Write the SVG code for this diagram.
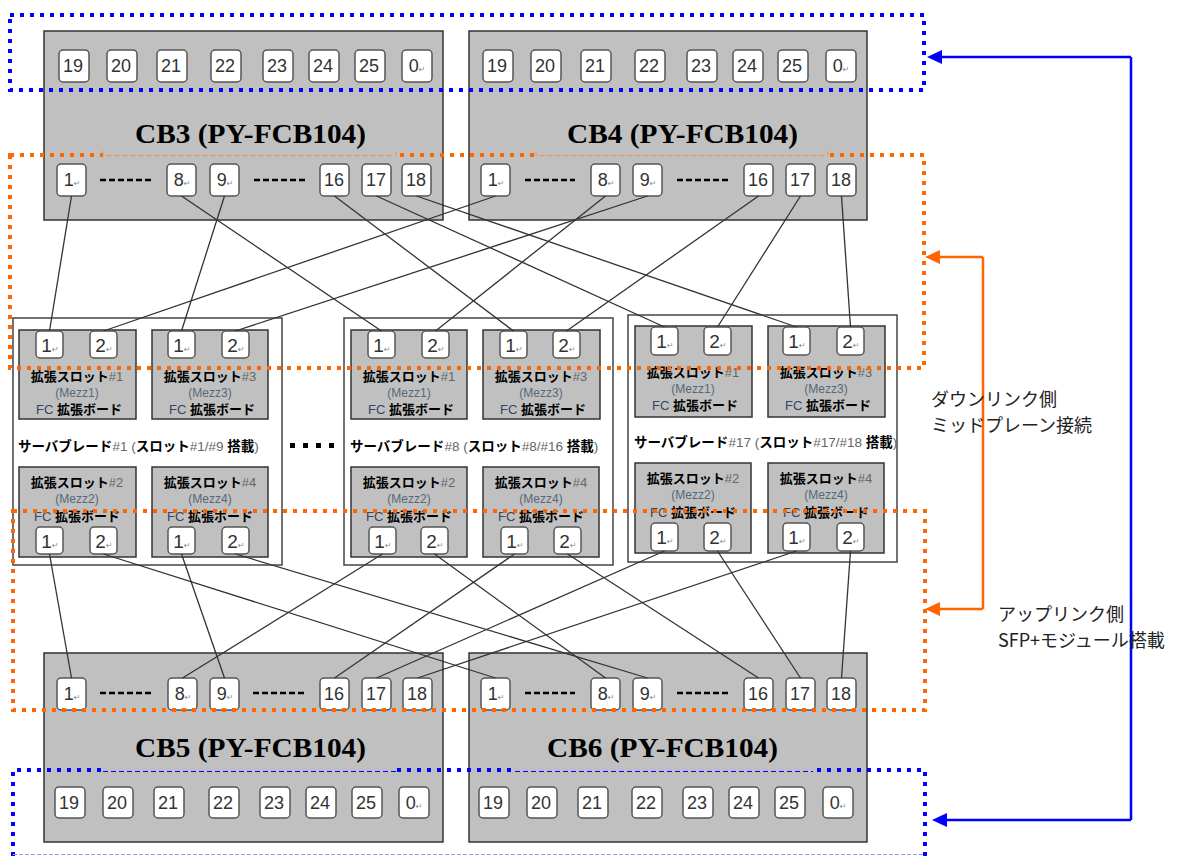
<svg xmlns="http://www.w3.org/2000/svg" width="1187" height="856" viewBox="0 0 1187 856">
<style>
.cb{fill:#c0c0c0;stroke:#333;stroke-width:1.5}
.mz{fill:#c0c0c0;stroke:#333;stroke-width:1.5}
.bl{fill:#fff;stroke:#444;stroke-width:1.5}
.pt{fill:#fff;stroke:#555;stroke-width:1.5}
.pn{font-family:"Liberation Sans",Arial,sans-serif;font-size:18px;fill:#333;text-anchor:middle}
.pb{font-family:"Liberation Sans",Arial,sans-serif;font-size:19px;fill:#333;text-anchor:middle}
.ar{font-family:"DejaVu Sans",sans-serif;font-size:8px;fill:#888}
.cbl{font-family:"Liberation Serif","Times New Roman",serif;font-size:28px;font-weight:bold;fill:#000}
.mt{font-family:"Noto Sans CJK JP",sans-serif;font-size:13px;font-weight:bold;fill:#000;text-anchor:middle}
.g{font-family:"Liberation Sans",Arial,sans-serif;font-weight:normal;fill:#666}
.mm{font-family:"Liberation Sans",Arial,sans-serif;font-size:12px;fill:#55687a;text-anchor:middle}
.fc{font-family:"Liberation Sans",Arial,sans-serif;font-weight:normal;fill:#334466}
.blab{font-family:"Noto Sans CJK JP",sans-serif;font-size:13.5px;font-weight:bold;fill:#000}
.dash{stroke:#000;stroke-width:2.5;stroke-dasharray:6 3}
.conn{stroke:#333;stroke-width:1.3;fill:none}
.bd{fill:none;stroke:#0000ff;stroke-width:4;stroke-dasharray:4 6}
.od{fill:none;stroke:#ff6600;stroke-width:4;stroke-dasharray:4 6}
.side{font-family:"Noto Sans CJK JP","Noto Sans",sans-serif;font-size:18px;fill:#222}
</style>

<g id="cb3">
<rect class="cb" x="44" y="31" width="399" height="189"/>
<rect class="pt" x="59" y="50" width="30" height="32" rx="4"/>
<rect class="pt" x="107" y="50" width="30" height="32" rx="4"/>
<rect class="pt" x="157" y="50" width="30" height="32" rx="4"/>
<rect class="pt" x="211" y="50" width="30" height="32" rx="4"/>
<rect class="pt" x="263" y="50" width="30" height="32" rx="4"/>
<rect class="pt" x="309" y="50" width="30" height="32" rx="4"/>
<rect class="pt" x="355" y="50" width="30" height="32" rx="4"/>
<rect class="pt" x="402" y="50" width="30" height="32" rx="4"/>
<text class="pn" x="73" y="72">19</text>
<text class="pn" x="121" y="72">20</text>
<text class="pn" x="171" y="72">21</text>
<text class="pn" x="225" y="72">22</text>
<text class="pn" x="277" y="72">23</text>
<text class="pn" x="323" y="72">24</text>
<text class="pn" x="369" y="72">25</text>
<text class="pn" x="417" y="72">0<tspan class="ar">↵</tspan></text>
<text class="cbl" x="135" y="143" textLength="231" lengthAdjust="spacingAndGlyphs">CB3 (PY-FCB104)</text>
<rect class="pt" x="57" y="164" width="29" height="32" rx="4"/>
<rect class="pt" x="167" y="164" width="29" height="32" rx="4"/>
<rect class="pt" x="210" y="164" width="29" height="32" rx="4"/>
<rect class="pt" x="320" y="164" width="29" height="32" rx="4"/>
<rect class="pt" x="362" y="164" width="29" height="32" rx="4"/>
<rect class="pt" x="402" y="164" width="29" height="32" rx="4"/>
<text class="pn" x="72" y="186">1<tspan class="ar">↵</tspan></text>
<text class="pn" x="182" y="186">8<tspan class="ar">↵</tspan></text>
<text class="pn" x="225" y="186">9<tspan class="ar">↵</tspan></text>
<text class="pn" x="334" y="186">16</text>
<text class="pn" x="376" y="186">17</text>
<text class="pn" x="416" y="186">18</text>
<line class="dash" x1="100" y1="180" x2="152" y2="180"/>
<line class="dash" x1="254" y1="180" x2="305" y2="180"/>
</g>

<g id="cb4">
<rect class="cb" x="469" y="31" width="398" height="189"/>
<rect class="pt" x="483" y="50" width="30" height="32" rx="4"/>
<rect class="pt" x="531" y="50" width="30" height="32" rx="4"/>
<rect class="pt" x="581" y="50" width="30" height="32" rx="4"/>
<rect class="pt" x="635" y="50" width="30" height="32" rx="4"/>
<rect class="pt" x="687" y="50" width="30" height="32" rx="4"/>
<rect class="pt" x="733" y="50" width="30" height="32" rx="4"/>
<rect class="pt" x="778" y="50" width="30" height="32" rx="4"/>
<rect class="pt" x="826" y="50" width="30" height="32" rx="4"/>
<text class="pn" x="497" y="72">19</text>
<text class="pn" x="545" y="72">20</text>
<text class="pn" x="595" y="72">21</text>
<text class="pn" x="649" y="72">22</text>
<text class="pn" x="701" y="72">23</text>
<text class="pn" x="747" y="72">24</text>
<text class="pn" x="792" y="72">25</text>
<text class="pn" x="841" y="72">0<tspan class="ar">↵</tspan></text>
<text class="cbl" x="567" y="143" textLength="231" lengthAdjust="spacingAndGlyphs">CB4 (PY-FCB104)</text>
<rect class="pt" x="481" y="164" width="29" height="32" rx="4"/>
<rect class="pt" x="591" y="164" width="29" height="32" rx="4"/>
<rect class="pt" x="633" y="164" width="29" height="32" rx="4"/>
<rect class="pt" x="744" y="164" width="29" height="32" rx="4"/>
<rect class="pt" x="786" y="164" width="29" height="32" rx="4"/>
<rect class="pt" x="827" y="164" width="29" height="32" rx="4"/>
<text class="pn" x="496" y="186">1<tspan class="ar">↵</tspan></text>
<text class="pn" x="606" y="186">8<tspan class="ar">↵</tspan></text>
<text class="pn" x="648" y="186">9<tspan class="ar">↵</tspan></text>
<text class="pn" x="758" y="186">16</text>
<text class="pn" x="800" y="186">17</text>
<text class="pn" x="841" y="186">18</text>
<line class="dash" x1="525" y1="180" x2="575" y2="180"/>
<line class="dash" x1="677" y1="180" x2="728" y2="180"/>
</g>

<g id="cb5">
<rect class="cb" x="44" y="653" width="399" height="189"/>
<rect class="pt" x="57" y="678" width="29" height="32" rx="4"/>
<rect class="pt" x="168" y="678" width="29" height="32" rx="4"/>
<rect class="pt" x="210" y="678" width="29" height="32" rx="4"/>
<rect class="pt" x="320" y="678" width="29" height="32" rx="4"/>
<rect class="pt" x="362" y="678" width="29" height="32" rx="4"/>
<rect class="pt" x="403" y="678" width="29" height="32" rx="4"/>
<text class="pn" x="72" y="700">1<tspan class="ar">↵</tspan></text>
<text class="pn" x="183" y="700">8<tspan class="ar">↵</tspan></text>
<text class="pn" x="225" y="700">9<tspan class="ar">↵</tspan></text>
<text class="pn" x="334" y="700">16</text>
<text class="pn" x="376" y="700">17</text>
<text class="pn" x="417" y="700">18</text>
<line class="dash" x1="100" y1="693" x2="152" y2="693"/>
<line class="dash" x1="253" y1="693" x2="304" y2="693"/>
<text class="cbl" x="135" y="757" textLength="231" lengthAdjust="spacingAndGlyphs">CB5 (PY-FCB104)</text>
<rect class="pt" x="55" y="787" width="30" height="31" rx="4"/>
<rect class="pt" x="103" y="787" width="30" height="31" rx="4"/>
<rect class="pt" x="154" y="787" width="30" height="31" rx="4"/>
<rect class="pt" x="209" y="787" width="30" height="31" rx="4"/>
<rect class="pt" x="260" y="787" width="30" height="31" rx="4"/>
<rect class="pt" x="306" y="787" width="30" height="31" rx="4"/>
<rect class="pt" x="352" y="787" width="30" height="31" rx="4"/>
<rect class="pt" x="399" y="787" width="30" height="31" rx="4"/>
<text class="pn" x="69" y="809">19</text>
<text class="pn" x="117" y="809">20</text>
<text class="pn" x="168" y="809">21</text>
<text class="pn" x="223" y="809">22</text>
<text class="pn" x="274" y="809">23</text>
<text class="pn" x="320" y="809">24</text>
<text class="pn" x="366" y="809">25</text>
<text class="pn" x="414" y="809">0<tspan class="ar">↵</tspan></text>
</g>

<g id="cb6">
<rect class="cb" x="469" y="653" width="398" height="189"/>
<rect class="pt" x="481" y="678" width="29" height="32" rx="4"/>
<rect class="pt" x="591" y="678" width="29" height="32" rx="4"/>
<rect class="pt" x="633" y="678" width="29" height="32" rx="4"/>
<rect class="pt" x="744" y="678" width="29" height="32" rx="4"/>
<rect class="pt" x="786" y="678" width="29" height="32" rx="4"/>
<rect class="pt" x="827" y="678" width="29" height="32" rx="4"/>
<text class="pn" x="496" y="700">1<tspan class="ar">↵</tspan></text>
<text class="pn" x="606" y="700">8<tspan class="ar">↵</tspan></text>
<text class="pn" x="648" y="700">9<tspan class="ar">↵</tspan></text>
<text class="pn" x="758" y="700">16</text>
<text class="pn" x="800" y="700">17</text>
<text class="pn" x="841" y="700">18</text>
<line class="dash" x1="525" y1="693" x2="575" y2="693"/>
<line class="dash" x1="677" y1="693" x2="728" y2="693"/>
<text class="cbl" x="547" y="757" textLength="231" lengthAdjust="spacingAndGlyphs">CB6 (PY-FCB104)</text>
<rect class="pt" x="479" y="787" width="30" height="31" rx="4"/>
<rect class="pt" x="527" y="787" width="30" height="31" rx="4"/>
<rect class="pt" x="578" y="787" width="30" height="31" rx="4"/>
<rect class="pt" x="632" y="787" width="30" height="31" rx="4"/>
<rect class="pt" x="683" y="787" width="30" height="31" rx="4"/>
<rect class="pt" x="729" y="787" width="30" height="31" rx="4"/>
<rect class="pt" x="775" y="787" width="30" height="31" rx="4"/>
<rect class="pt" x="823" y="787" width="30" height="31" rx="4"/>
<text class="pn" x="493" y="809">19</text>
<text class="pn" x="541" y="809">20</text>
<text class="pn" x="592" y="809">21</text>
<text class="pn" x="646" y="809">22</text>
<text class="pn" x="697" y="809">23</text>
<text class="pn" x="743" y="809">24</text>
<text class="pn" x="789" y="809">25</text>
<text class="pn" x="838" y="809">0<tspan class="ar">↵</tspan></text>
</g>

<g id="blade1">
<rect class="bl" x="13" y="318" width="269" height="247"/>
<rect class="mz" x="19" y="330" width="117" height="89"/>
<rect class="mz" x="152" y="330" width="116" height="89"/>
<rect class="mz" x="19" y="467" width="117" height="90"/>
<rect class="mz" x="152" y="467" width="116" height="90"/>
<rect class="pt" x="36" y="331" width="27" height="27" rx="4"/>
<rect class="pt" x="90" y="331" width="27" height="27" rx="4"/>
<rect class="pt" x="168" y="331" width="27" height="27" rx="4"/>
<rect class="pt" x="222" y="331" width="27" height="27" rx="4"/>
<text class="pb" x="50" y="352">1<tspan class="ar">↵</tspan></text>
<text class="pb" x="104" y="352">2<tspan class="ar">↵</tspan></text>
<text class="pb" x="182" y="352">1<tspan class="ar">↵</tspan></text>
<text class="pb" x="236" y="352">2<tspan class="ar">↵</tspan></text>
<text class="mt" x="77" y="381">拡張スロット<tspan class="g">#1</tspan></text>
<text class="mm" x="77" y="397">(Mezz1)</text>
<text class="mt" x="79" y="414"><tspan class="fc">FC </tspan>拡張ボード</text>
<text class="mt" x="210" y="381">拡張スロット<tspan class="g">#3</tspan></text>
<text class="mm" x="210" y="397">(Mezz3)</text>
<text class="mt" x="212" y="414"><tspan class="fc">FC </tspan>拡張ボード</text>
<text class="blab" x="18" y="451">サーバブレード<tspan class="g">#1 (</tspan>スロット<tspan class="g">#1/#9 </tspan>搭載<tspan class="g">)</tspan></text>
<text class="mt" x="77" y="487">拡張スロット<tspan class="g">#2</tspan></text>
<text class="mm" x="77" y="503">(Mezz2)</text>
<text class="mt" x="77" y="521"><tspan class="fc">FC </tspan>拡張ボード</text>
<text class="mt" x="210" y="487">拡張スロット<tspan class="g">#4</tspan></text>
<text class="mm" x="210" y="503">(Mezz4)</text>
<text class="mt" x="210" y="521"><tspan class="fc">FC </tspan>拡張ボード</text>
<rect class="pt" x="36" y="527" width="27" height="27" rx="4"/>
<rect class="pt" x="90" y="527" width="27" height="27" rx="4"/>
<rect class="pt" x="168" y="527" width="27" height="27" rx="4"/>
<rect class="pt" x="222" y="527" width="27" height="27" rx="4"/>
<text class="pb" x="50" y="548">1<tspan class="ar">↵</tspan></text>
<text class="pb" x="104" y="548">2<tspan class="ar">↵</tspan></text>
<text class="pb" x="182" y="548">1<tspan class="ar">↵</tspan></text>
<text class="pb" x="236" y="548">2<tspan class="ar">↵</tspan></text>
</g>

<g id="ellipsis">
<rect x="290" y="443" width="5" height="5" fill="#000"/>
<rect x="303" y="443" width="5" height="5" fill="#000"/>
<rect x="316" y="443" width="5" height="5" fill="#000"/>
<rect x="329" y="443" width="5" height="5" fill="#000"/>
</g>

<g id="blade8">
<rect class="bl" x="344" y="318" width="269" height="247"/>
<rect class="mz" x="351" y="330" width="116" height="89"/>
<rect class="mz" x="483" y="330" width="117" height="89"/>
<rect class="mz" x="351" y="467" width="116" height="90"/>
<rect class="mz" x="483" y="467" width="116" height="90"/>
<rect class="pt" x="368" y="331" width="27" height="27" rx="4"/>
<rect class="pt" x="422" y="331" width="27" height="27" rx="4"/>
<rect class="pt" x="500" y="331" width="27" height="27" rx="4"/>
<rect class="pt" x="553" y="331" width="27" height="27" rx="4"/>
<text class="pb" x="382" y="352">1<tspan class="ar">↵</tspan></text>
<text class="pb" x="436" y="352">2<tspan class="ar">↵</tspan></text>
<text class="pb" x="514" y="352">1<tspan class="ar">↵</tspan></text>
<text class="pb" x="567" y="352">2<tspan class="ar">↵</tspan></text>
<text class="mt" x="409" y="381">拡張スロット<tspan class="g">#1</tspan></text>
<text class="mm" x="409" y="397">(Mezz1)</text>
<text class="mt" x="411" y="414"><tspan class="fc">FC </tspan>拡張ボード</text>
<text class="mt" x="541" y="381">拡張スロット<tspan class="g">#3</tspan></text>
<text class="mm" x="541" y="397">(Mezz3)</text>
<text class="mt" x="543" y="414"><tspan class="fc">FC </tspan>拡張ボード</text>
<text class="blab" x="350" y="451">サーバブレード<tspan class="g">#8 (</tspan>スロット<tspan class="g">#8/#16 </tspan>搭載<tspan class="g">)</tspan></text>
<text class="mt" x="409" y="487">拡張スロット<tspan class="g">#2</tspan></text>
<text class="mm" x="409" y="503">(Mezz2)</text>
<text class="mt" x="409" y="521"><tspan class="fc">FC </tspan>拡張ボード</text>
<text class="mt" x="541" y="487">拡張スロット<tspan class="g">#4</tspan></text>
<text class="mm" x="541" y="503">(Mezz4)</text>
<text class="mt" x="541" y="521"><tspan class="fc">FC </tspan>拡張ボード</text>
<rect class="pt" x="369" y="527" width="27" height="27" rx="4"/>
<rect class="pt" x="421" y="527" width="27" height="27" rx="4"/>
<rect class="pt" x="501" y="527" width="27" height="27" rx="4"/>
<rect class="pt" x="554" y="527" width="27" height="27" rx="4"/>
<text class="pb" x="383" y="548">1<tspan class="ar">↵</tspan></text>
<text class="pb" x="435" y="548">2<tspan class="ar">↵</tspan></text>
<text class="pb" x="515" y="548">1<tspan class="ar">↵</tspan></text>
<text class="pb" x="568" y="548">2<tspan class="ar">↵</tspan></text>
</g>

<g id="blade17">
<rect class="bl" x="628" y="315" width="269" height="247"/>
<rect class="mz" x="635" y="326" width="117" height="91"/>
<rect class="mz" x="768" y="326" width="117" height="91"/>
<rect class="mz" x="635" y="463" width="116" height="90"/>
<rect class="mz" x="768" y="463" width="116" height="90"/>
<rect class="pt" x="651" y="327" width="27" height="28" rx="4"/>
<rect class="pt" x="704" y="327" width="27" height="28" rx="4"/>
<rect class="pt" x="783" y="327" width="27" height="28" rx="4"/>
<rect class="pt" x="837" y="327" width="27" height="28" rx="4"/>
<text class="pb" x="665" y="348">1<tspan class="ar">↵</tspan></text>
<text class="pb" x="718" y="348">2<tspan class="ar">↵</tspan></text>
<text class="pb" x="797" y="348">1<tspan class="ar">↵</tspan></text>
<text class="pb" x="851" y="348">2<tspan class="ar">↵</tspan></text>
<text class="mt" x="693" y="377">拡張スロット<tspan class="g">#1</tspan></text>
<text class="mm" x="693" y="393">(Mezz1)</text>
<text class="mt" x="695" y="410"><tspan class="fc">FC </tspan>拡張ボード</text>
<text class="mt" x="826" y="377">拡張スロット<tspan class="g">#3</tspan></text>
<text class="mm" x="826" y="393">(Mezz3)</text>
<text class="mt" x="828" y="410"><tspan class="fc">FC </tspan>拡張ボード</text>
<text class="blab" x="634" y="447">サーバブレード<tspan class="g">#17 (</tspan>スロット<tspan class="g">#17/#18 </tspan>搭載<tspan class="g">)</tspan></text>
<text class="mt" x="693" y="483">拡張スロット<tspan class="g">#2</tspan></text>
<text class="mm" x="693" y="499">(Mezz2)</text>
<text class="mt" x="693" y="517"><tspan class="fc">FC </tspan>拡張ボード</text>
<text class="mt" x="826" y="483">拡張スロット<tspan class="g">#4</tspan></text>
<text class="mm" x="826" y="499">(Mezz4)</text>
<text class="mt" x="826" y="517"><tspan class="fc">FC </tspan>拡張ボード</text>
<rect class="pt" x="651" y="523" width="27" height="28" rx="4"/>
<rect class="pt" x="704" y="523" width="27" height="28" rx="4"/>
<rect class="pt" x="783" y="523" width="27" height="28" rx="4"/>
<rect class="pt" x="837" y="523" width="27" height="28" rx="4"/>
<text class="pb" x="665" y="544">1<tspan class="ar">↵</tspan></text>
<text class="pb" x="718" y="544">2<tspan class="ar">↵</tspan></text>
<text class="pb" x="797" y="544">1<tspan class="ar">↵</tspan></text>
<text class="pb" x="851" y="544">2<tspan class="ar">↵</tspan></text>
</g>

<g id="connectors">
<line class="conn" x1="71.5" y1="196" x2="49.5" y2="331"/>
<line class="conn" x1="495.5" y1="196" x2="103.5" y2="331"/>
<line class="conn" x1="224.5" y1="196" x2="181.5" y2="331"/>
<line class="conn" x1="647.5" y1="196" x2="235.5" y2="331"/>
<line class="conn" x1="181.5" y1="196" x2="381.5" y2="331"/>
<line class="conn" x1="605.5" y1="196" x2="435.5" y2="331"/>
<line class="conn" x1="334.5" y1="196" x2="513.5" y2="331"/>
<line class="conn" x1="758.5" y1="196" x2="566.5" y2="331"/>
<line class="conn" x1="376.5" y1="196" x2="664.5" y2="327"/>
<line class="conn" x1="800.5" y1="196" x2="717.5" y2="327"/>
<line class="conn" x1="416.5" y1="196" x2="796.5" y2="327"/>
<line class="conn" x1="841.5" y1="196" x2="850.5" y2="327"/>
<line class="conn" x1="49.5" y1="554" x2="71.5" y2="678"/>
<line class="conn" x1="103.5" y1="554" x2="495.5" y2="678"/>
<line class="conn" x1="181.5" y1="554" x2="224.5" y2="678"/>
<line class="conn" x1="235.5" y1="554" x2="647.5" y2="678"/>
<line class="conn" x1="382.5" y1="554" x2="182.5" y2="678"/>
<line class="conn" x1="434.5" y1="554" x2="605.5" y2="678"/>
<line class="conn" x1="514.5" y1="554" x2="334.5" y2="678"/>
<line class="conn" x1="567.5" y1="554" x2="758.5" y2="678"/>
<line class="conn" x1="664.5" y1="551" x2="376.5" y2="678"/>
<line class="conn" x1="717.5" y1="551" x2="800.5" y2="678"/>
<line class="conn" x1="796.5" y1="551" x2="417.5" y2="678"/>
<line class="conn" x1="850.5" y1="551" x2="841.5" y2="678"/>
</g>

<g id="regions">
<path class="bd" d="M10,15 H924 V90 H10 Z"/>
<path class="od" d="M10,155 H924 V368 H10 Z"/>
<path class="od" d="M13,511 H925 V710 H13 Z"/>
<path class="bd" d="M13,856 V770 H925 V856"/>
<line x1="13" y1="854.5" x2="925" y2="854.5" stroke="#9999ff" stroke-width="1" stroke-dasharray="4 2"/>
<rect x="103" y="151.5" width="293" height="7" fill="#c0c0c0"/>
<path d="M103,151 V155.5 H396 V151" fill="none" stroke="#ff8c40" stroke-width="1" stroke-dasharray="5 3"/>
<rect x="536" y="151.5" width="292" height="7" fill="#c0c0c0"/>
<path d="M536,151 V155.5 H828 V151" fill="none" stroke="#ff8c40" stroke-width="1" stroke-dasharray="5 3"/>
<rect x="103" y="766.5" width="294" height="7" fill="#c0c0c0"/>
<line x1="103" y1="771.5" x2="397" y2="771.5" stroke="#0000ff" stroke-width="1" stroke-dasharray="5 3"/>
<rect x="515" y="766.5" width="298" height="7" fill="#c0c0c0"/>
<line x1="515" y1="771.5" x2="813" y2="771.5" stroke="#0000ff" stroke-width="1" stroke-dasharray="5 3"/>
</g>

<g id="arrows">
<path d="M983,257 V609 M983,257 H938 M983,609 H938" fill="none" stroke="#ff6600" stroke-width="2.5"/>
<polygon points="925,257 940,250 940,264" fill="#ff6600"/>
<polygon points="925,609 940,602 940,616" fill="#ff6600"/>
<path d="M1131,57 V820 M1131,57 H940 M1131,820 H945" fill="none" stroke="#0000ff" stroke-width="2.5"/>
<polygon points="927,57 942,50 942,64" fill="#0000ff"/>
<polygon points="932,820 947,813 947,827" fill="#0000ff"/>
</g>

<g id="side-labels">
<text class="side" x="931" y="406">ダウンリンク側</text>
<text class="side" x="931" y="432">ミッドプレーン接続</text>
<text class="side" x="998" y="621">アップリンク側</text>
<text class="side" x="998" y="647">SFP+モジュール搭載</text>
</g>
</svg>
